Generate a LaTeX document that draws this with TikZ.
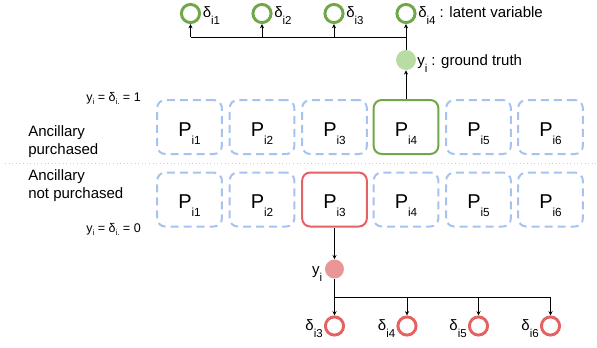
\documentclass[tikz,border=0pt]{standalone}
\usepackage{fontspec}
\setmainfont{Liberation Sans}
\usetikzlibrary{arrows.meta}
\definecolor{boxblue}{RGB}{166,195,240}
\definecolor{grn}{RGB}{112,168,72}
\definecolor{grnfill}{RGB}{185,220,165}
\definecolor{rd}{RGB}{228,98,98}
\definecolor{rdfill}{RGB}{234,150,150}
\newcommand\sbp[1]{\raisebox{-6pt}{\fontsize{8.8pt}{9pt}\selectfont #1}}
\newcommand\sbs[1]{\raisebox{-5.6pt}{\fontsize{8.6pt}{9pt}\selectfont #1}}
\newcommand\sbt[1]{\raisebox{-2.6pt}{\fontsize{5.8pt}{6pt}\selectfont #1}}
\begin{document}
\begin{tikzpicture}[x=0.75pt,y=-0.75pt,
  pbox/.style={rectangle,rounded corners=6pt,minimum width=48.5pt,minimum height=40.5pt,
    line width=1.5pt,inner sep=0pt},
  ptext/.style={font=\fontsize{15pt}{18pt}\selectfont,inner sep=0pt,anchor=base},
  dashbox/.style={pbox,draw=boxblue,dash pattern=on 6pt off 3.75pt},
  greenbox/.style={pbox,draw=grn},
  redbox/.style={pbox,draw=rd},
  latg/.style={circle,draw=grn,line width=2.2pt,minimum size=13.6pt,inner sep=0pt},
  latr/.style={circle,draw=rd,line width=2.2pt,minimum size=13.6pt,inner sep=0pt},
  gtg/.style={circle,fill=grnfill,minimum size=15pt,inner sep=0pt},
  gtr/.style={circle,fill=rdfill,minimum size=14.2pt,inner sep=0pt},
  lbl/.style={font=\fontsize{11.25pt}{13.5pt}\selectfont,inner sep=0pt},
  small/.style={font=\fontsize{9.4pt}{11pt}\selectfont,inner sep=0pt},
  conn/.style={line width=0.75pt},
  arr/.style={conn,-{Stealth[length=3.2pt,width=3pt]}}]
\useasboundingbox (0,0) rectangle (597,347);

% separator
\draw[dotted,gray!40,line width=0.7pt] (5,163) -- (597,163);

% top row boxes
\node[dashbox] (t1) at (189.5,127) {};
\node[dashbox] (t2) at (262,127) {};
\node[dashbox] (t3) at (334.5,127) {};
\node[greenbox] (t4) at (406,127) {};
\node[dashbox] (t5) at (478.5,127) {};
\node[dashbox] (t6) at (550.5,127) {};
\node[ptext] (pt1) at (189.5,136) {P\sbp{i1}};
\node[ptext] (pt2) at (262,136) {P\sbp{i2}};
\node[ptext] (pt3) at (334.5,136) {P\sbp{i3}};
\node[ptext] (pt4) at (406,136) {P\sbp{i4}};
\node[ptext] (pt5) at (478.5,136) {P\sbp{i5}};
\node[ptext] (pt6) at (550.5,136) {P\sbp{i6}};

% bottom row boxes
\node[dashbox] (u1) at (189.5,199.5) {};
\node[dashbox] (u2) at (262,199.5) {};
\node[redbox] (u3) at (334.5,199.5) {};
\node[dashbox] (u4) at (406,199.5) {};
\node[dashbox] (u5) at (478.5,199.5) {};
\node[dashbox] (u6) at (550.5,199.5) {};
\node[ptext] (pu1) at (189.5,208.5) {P\sbp{i1}};
\node[ptext] (pu2) at (262,208.5) {P\sbp{i2}};
\node[ptext] (pu3) at (334.5,208.5) {P\sbp{i3}};
\node[ptext] (pu4) at (406,208.5) {P\sbp{i4}};
\node[ptext] (pu5) at (478.5,208.5) {P\sbp{i5}};
\node[ptext] (pu6) at (550.5,208.5) {P\sbp{i6}};

% left labels
\node[lbl,align=left,anchor=west] (anc1) at (28,142) {Ancillary\\purchased};
\node[lbl,align=left,anchor=west] (anc0) at (28,186) {Ancillary\\not purchased};
\node[small,anchor=base east] (eq1) at (141,101) {y\sbt{i} = δ\sbt{i.} = 1};
\node[small,anchor=base east] (eq0) at (141,232) {y\sbt{i} = δ\sbt{i.} = 0};

% top latent circles
\node[latg] (d1) at (190.5,13.5) {};
\node[latg] (d2) at (262,13.5) {};
\node[latg] (d3) at (334,13.5) {};
\node[latg] (d4) at (406,13.5) {};
\node[lbl,anchor=base west] (ld1) at (202.5,17.5) {δ\sbs{i1}};
\node[lbl,anchor=base west] (ld2) at (274,17.5) {δ\sbs{i2}};
\node[lbl,anchor=base west] (ld3) at (346,17.5) {δ\sbs{i3}};
\node[lbl,anchor=base west] (ld4) at (418,17.5) {δ\sbs{i4} : latent variable};

% ground truth
\node[gtg] (g) at (406,60) {};
\node[lbl,anchor=base west] (lg) at (417,65) {y\sbs{i} : ground truth};

\coordinate (b1) at (190.5,37);
\coordinate (b2) at (262,37);
\coordinate (b3) at (334,37);
\coordinate (b4) at (406,37);

\draw[arr] (t4.north) -- (g.south);
\draw[arr] (g.north) -- (d4.south);
\draw[conn] (b1) -- (b4);
\draw[arr] (b1) -- (d1.south);
\draw[arr] (b2) -- (d2.south);
\draw[arr] (b3) -- (d3.south);

% bottom
\node[gtr] (r) at (334.5,269) {};
\node[lbl,anchor=base east] (lr) at (322.5,274) {y\sbs{i}};
\node[latr] (e3) at (334.5,326) {};
\node[latr] (e4) at (407,326) {};
\node[latr] (e5) at (478.5,326) {};
\node[latr] (e6) at (550.5,326) {};
\node[lbl,anchor=base east] (le3) at (323,330.5) {δ\sbs{i3}};
\node[lbl,anchor=base east] (le4) at (395.5,330.5) {δ\sbs{i4}};
\node[lbl,anchor=base east] (le5) at (467,330.5) {δ\sbs{i5}};
\node[lbl,anchor=base east] (le6) at (539,330.5) {δ\sbs{i6}};

\coordinate (c3) at (334.5,297);
\coordinate (c4) at (407,297);
\coordinate (c5) at (478.5,297);
\coordinate (c6) at (550.5,297);

\draw[arr] (u3.south) -- (r.north);
\draw[conn] (r.south) -- (c3);
\draw[conn] (c3) -- (c6);
\draw[arr] (c3) -- (e3.north);
\draw[arr] (c4) -- (e4.north);
\draw[arr] (c5) -- (e5.north);
\draw[arr] (c6) -- (e6.north);
\end{tikzpicture}
\end{document}
